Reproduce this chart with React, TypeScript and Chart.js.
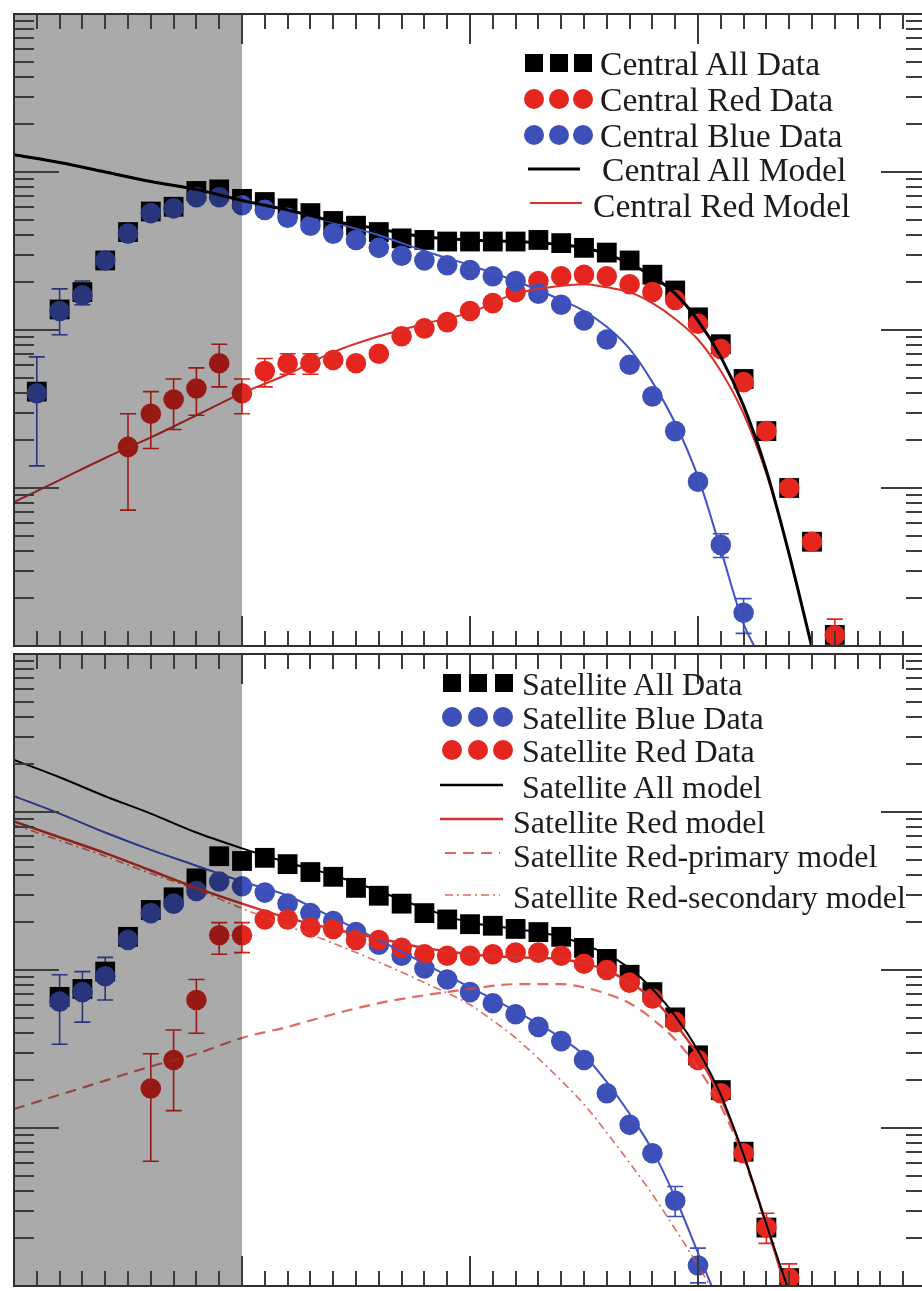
import React, { useEffect, useRef } from "react";
import { Chart, registerables } from "chart.js";

Chart.register(...registerables);

// ---------- axes ----------
const X_MIN = 8.0;
const X_MAX = 12.0;
const PHI_MIN = 1e-5;
const PHI_MAX = 1e-1;
const SHADE_FROM = 8.0;
const SHADE_TO = 9.0;

// ---------- colours ----------
const C_BLACK = "#000000";
const C_RED = "#e5261f";
const C_BLUE = "#3c50b8";
const C_RED_LINE = "#d8302a";
const C_BLUE_LINE = "#4052c4";
const C_RED_DASH = "rgba(215,70,60,0.8)";

// ---------- Central (top panel), log10 Phi ----------
const CEN_ALL_X = [8.1, 8.2, 8.3, 8.4, 8.5, 8.6, 8.7, 8.8, 8.9, 9.0, 9.1, 9.2, 9.3, 9.4, 9.5, 9.6, 9.7, 9.8, 9.9, 10.0, 10.1, 10.2, 10.3, 10.4, 10.5, 10.6, 10.7, 10.8, 10.9, 11.0, 11.1, 11.2, 11.3, 11.4, 11.5, 11.6];
const CEN_ALL_LOGPHI = [-3.39, -2.87, -2.76, -2.56, -2.38, -2.25, -2.22, -2.12, -2.11, -2.17, -2.19, -2.23, -2.26, -2.31, -2.34, -2.38, -2.42, -2.43, -2.44, -2.44, -2.44, -2.44, -2.43, -2.45, -2.48, -2.51, -2.56, -2.65, -2.75, -2.92, -3.09, -3.31, -3.64, -4.0, -4.34, -4.93];

const CEN_BLUE_X = [8.1, 8.2, 8.3, 8.4, 8.5, 8.6, 8.7, 8.8, 8.9, 9.0, 9.1, 9.2, 9.3, 9.4, 9.5, 9.6, 9.7, 9.8, 9.9, 10.0, 10.1, 10.2, 10.3, 10.4, 10.5, 10.6, 10.7, 10.8, 10.9, 11.0, 11.1, 11.2];
const CEN_BLUE_LOGPHI = [-3.4, -2.88, -2.78, -2.56, -2.39, -2.26, -2.23, -2.16, -2.16, -2.21, -2.24, -2.29, -2.34, -2.39, -2.43, -2.48, -2.53, -2.56, -2.59, -2.62, -2.66, -2.69, -2.77, -2.84, -2.94, -3.06, -3.22, -3.42, -3.64, -3.96, -4.36, -4.79];

const CEN_RED_X = [8.5, 8.6, 8.7, 8.8, 8.9, 9.0, 9.1, 9.2, 9.3, 9.4, 9.5, 9.6, 9.7, 9.8, 9.9, 10.0, 10.1, 10.2, 10.3, 10.4, 10.5, 10.6, 10.7, 10.8, 10.9, 11.0, 11.1, 11.2, 11.3, 11.4, 11.5, 11.6];
const CEN_RED_LOGPHI = [-3.74, -3.53, -3.44, -3.37, -3.21, -3.4, -3.26, -3.21, -3.21, -3.19, -3.21, -3.15, -3.04, -2.99, -2.95, -2.88, -2.83, -2.76, -2.69, -2.66, -2.65, -2.66, -2.71, -2.76, -2.81, -2.96, -3.12, -3.33, -3.64, -4.0, -4.34, -4.93];

const CEN_BLUE_ERR_X = [8.1, 8.2, 8.3, 11.1, 11.2];
const CEN_BLUE_ERR_LO = [-3.86, -3.03, -2.84, -4.44, -4.92];
const CEN_BLUE_ERR_HI = [-3.17, -2.74, -2.69, -4.29, -4.7];

const CEN_RED_ERR_X = [8.5, 8.6, 8.7, 8.8, 8.9, 9.0, 9.1, 9.2, 9.3, 11.6];
const CEN_RED_ERR_LO = [-4.14, -3.75, -3.63, -3.54, -3.36, -3.53, -3.36, -3.28, -3.28, -5.04];
const CEN_RED_ERR_HI = [-3.53, -3.39, -3.31, -3.24, -3.09, -3.31, -3.18, -3.15, -3.15, -4.83];

const CEN_MODEL_X = [8.0, 8.2, 8.4, 8.6, 8.8, 9.0, 9.2, 9.4, 9.6, 9.8, 10.0, 10.2, 10.4, 10.5, 10.6, 10.7, 10.8, 10.9, 11.0, 11.1, 11.2, 11.3, 11.4, 11.5];
const CEN_ALL_MODEL = [-1.89, -1.94, -2.0, -2.06, -2.11, -2.18, -2.24, -2.31, -2.36, -2.41, -2.43, -2.44, -2.46, -2.48, -2.52, -2.58, -2.66, -2.77, -2.94, -3.17, -3.48, -3.89, -4.42, -5.01];
const CEN_RED_MODEL = [-4.09, -3.95, -3.81, -3.68, -3.54, -3.4, -3.28, -3.14, -3.04, -2.96, -2.89, -2.77, -2.72, -2.71, -2.73, -2.76, -2.83, -2.93, -3.06, -3.26, -3.53, -3.91, -4.42, -5.01];
const CEN_BLUE_MODEL_X = [8.0, 8.2, 8.4, 8.6, 8.8, 9.0, 9.2, 9.4, 9.6, 9.8, 10.0, 10.2, 10.4, 10.5, 10.6, 10.7, 10.8, 10.9, 11.0, 11.1, 11.2, 11.25];
const CEN_BLUE_MODEL = [-1.89, -1.94, -2.0, -2.06, -2.11, -2.18, -2.24, -2.32, -2.4, -2.5, -2.59, -2.69, -2.81, -2.88, -2.98, -3.12, -3.33, -3.59, -3.93, -4.39, -4.86, -5.01];

// ---------- Satellite (bottom panel), log10 Phi ----------
const SAT_ALL_X = [8.2, 8.3, 8.4, 8.5, 8.6, 8.7, 8.8, 8.9, 9.0, 9.1, 9.2, 9.3, 9.4, 9.5, 9.6, 9.7, 9.8, 9.9, 10.0, 10.1, 10.2, 10.3, 10.4, 10.5, 10.6, 10.7, 10.8, 10.9, 11.0, 11.1, 11.2, 11.3, 11.4];
const SAT_ALL_LOGPHI = [-3.17, -3.12, -3.01, -2.79, -2.62, -2.54, -2.42, -2.28, -2.31, -2.29, -2.33, -2.38, -2.41, -2.48, -2.53, -2.58, -2.64, -2.68, -2.71, -2.72, -2.74, -2.76, -2.79, -2.86, -2.93, -3.03, -3.14, -3.3, -3.54, -3.76, -4.15, -4.63, -4.95];

const SAT_BLUE_X = [8.2, 8.3, 8.4, 8.5, 8.6, 8.7, 8.8, 8.9, 9.0, 9.1, 9.2, 9.3, 9.4, 9.5, 9.6, 9.7, 9.8, 9.9, 10.0, 10.1, 10.2, 10.3, 10.4, 10.5, 10.6, 10.7, 10.8, 10.9, 11.0];
const SAT_BLUE_LOGPHI = [-3.2, -3.14, -3.04, -2.81, -2.64, -2.58, -2.5, -2.44, -2.47, -2.51, -2.58, -2.64, -2.69, -2.76, -2.84, -2.91, -2.99, -3.06, -3.14, -3.21, -3.28, -3.36, -3.45, -3.57, -3.78, -3.98, -4.16, -4.46, -4.87];

const SAT_RED_X = [8.6, 8.7, 8.8, 8.9, 9.0, 9.1, 9.2, 9.3, 9.4, 9.5, 9.6, 9.7, 9.8, 9.9, 10.0, 10.1, 10.2, 10.3, 10.4, 10.5, 10.6, 10.7, 10.8, 10.9, 11.0, 11.1, 11.2, 11.3, 11.4];
const SAT_RED_LOGPHI = [-3.75, -3.57, -3.19, -2.78, -2.78, -2.68, -2.68, -2.73, -2.74, -2.81, -2.81, -2.86, -2.9, -2.91, -2.91, -2.9, -2.89, -2.89, -2.91, -2.96, -3.0, -3.08, -3.18, -3.33, -3.57, -3.78, -4.16, -4.63, -4.95];

const SAT_BLUE_ERR_X = [8.2, 8.3, 8.4, 10.9, 11.0];
const SAT_BLUE_ERR_LO = [-3.47, -3.33, -3.19, -4.56, -4.98];
const SAT_BLUE_ERR_HI = [-3.03, -3.01, -2.92, -4.37, -4.76];

const SAT_RED_ERR_X = [8.6, 8.7, 8.8, 8.9, 9.0, 11.3, 11.4];
const SAT_RED_ERR_LO = [-4.21, -3.89, -3.4, -2.9, -2.89, -4.73, -5.04];
const SAT_RED_ERR_HI = [-3.53, -3.38, -3.06, -2.7, -2.7, -4.54, -4.86];

const SAT_MODEL_X = [8.0, 8.2, 8.4, 8.6, 8.8, 9.0, 9.2, 9.4, 9.6, 9.8, 10.0, 10.2, 10.4, 10.5, 10.6, 10.7, 10.8, 10.9, 11.0, 11.1, 11.2, 11.3, 11.4];
const SAT_ALL_MODEL = [-1.67, -1.78, -1.9, -2.01, -2.13, -2.23, -2.32, -2.4, -2.5, -2.61, -2.7, -2.74, -2.79, -2.84, -2.9, -2.99, -3.12, -3.29, -3.51, -3.79, -4.17, -4.61, -5.04];
const SAT_RED_MODEL = [-2.06, -2.16, -2.26, -2.37, -2.48, -2.58, -2.67, -2.74, -2.8, -2.86, -2.9, -2.92, -2.93, -2.96, -3.0, -3.08, -3.18, -3.34, -3.54, -3.81, -4.17, -4.61, -5.08];
const SAT_RED_PRIMARY_MODEL = [-3.88, -3.79, -3.7, -3.61, -3.53, -3.43, -3.36, -3.28, -3.21, -3.16, -3.12, -3.09, -3.09, -3.11, -3.15, -3.21, -3.31, -3.44, -3.62, -3.86, -4.19, -4.62, -5.08];
const SAT_BLUE_MODEL_X = [8.0, 8.2, 8.4, 8.6, 8.8, 9.0, 9.2, 9.4, 9.6, 9.8, 10.0, 10.2, 10.4, 10.5, 10.6, 10.7, 10.8, 10.9, 11.0, 11.06];
const SAT_BLUE_MODEL = [-1.9, -2.01, -2.13, -2.24, -2.34, -2.44, -2.53, -2.67, -2.81, -2.96, -3.11, -3.26, -3.43, -3.54, -3.71, -3.91, -4.14, -4.44, -4.79, -5.0];
const SAT_RED_SECONDARY_X = [8.0, 8.2, 8.4, 8.6, 8.8, 9.0, 9.2, 9.4, 9.6, 9.8, 10.0, 10.1, 10.2, 10.3, 10.4, 10.5, 10.6, 10.7, 10.8, 10.9, 11.0, 11.1];
const SAT_RED_SECONDARY_MODEL = [-2.08, -2.18, -2.28, -2.39, -2.49, -2.61, -2.72, -2.83, -2.95, -3.08, -3.22, -3.32, -3.43, -3.56, -3.7, -3.85, -4.03, -4.22, -4.42, -4.64, -4.87, -5.12];

// ---------- legend labels ----------
const CEN_LABELS = ["Central All Data", "Central Red Data", "Central Blue Data", "Central All Model", "Central Red Model"];
const SAT_LABELS = ["Satellite All Data", "Satellite Blue Data", "Satellite Red Data", "Satellite All model", "Satellite Red model", "Satellite Red-primary model", "Satellite Red-secondary model"];

// ---------- helpers ----------
type ErrSet = { x: number[]; lo: number[]; hi: number[]; color: string };

const pts = (xs: number[], logs: number[]) => xs.map((x, i) => ({ x, y: Math.pow(10, logs[i]) }));

const SQUARE_R = 14;
const CIRCLE_R = 10.3;

const markers = (label: string, data: any[], style: string, color: string, radius: number, order: number) => ({
  label,
  data,
  showLine: false,
  pointStyle: style,
  pointRadius: radius,
  pointHoverRadius: radius,
  pointBackgroundColor: color,
  pointBorderColor: color,
  pointBorderWidth: 0,
  order,
});

const curve = (label: string, data: any[], color: string, width: number, dash: number[], order: number) => ({
  label,
  data,
  showLine: true,
  pointRadius: 0,
  pointHoverRadius: 0,
  borderColor: color,
  backgroundColor: color,
  borderWidth: width,
  borderDash: dash,
  fill: false,
  cubicInterpolationMode: "monotone",
  order,
});

const TOP_DATASETS = [
  curve(CEN_LABELS[3], pts(CEN_MODEL_X, CEN_ALL_MODEL), C_BLACK, 3, [], 1),
  curve(CEN_LABELS[4], pts(CEN_MODEL_X, CEN_RED_MODEL), C_RED_LINE, 2, [], 2),
  curve("Central Blue Model", pts(CEN_BLUE_MODEL_X, CEN_BLUE_MODEL), C_BLUE_LINE, 2, [], 3),
  markers(CEN_LABELS[2], pts(CEN_BLUE_X, CEN_BLUE_LOGPHI), "circle", C_BLUE, CIRCLE_R, 4),
  markers(CEN_LABELS[1], pts(CEN_RED_X, CEN_RED_LOGPHI), "circle", C_RED, CIRCLE_R, 5),
  markers(CEN_LABELS[0], pts(CEN_ALL_X, CEN_ALL_LOGPHI), "rect", C_BLACK, SQUARE_R, 6),
];

const BOTTOM_DATASETS = [
  curve(SAT_LABELS[3], pts(SAT_MODEL_X, SAT_ALL_MODEL), C_BLACK, 2, [], 1),
  curve(SAT_LABELS[4], pts(SAT_MODEL_X, SAT_RED_MODEL), C_RED_LINE, 2.5, [], 2),
  curve(SAT_LABELS[5], pts(SAT_MODEL_X, SAT_RED_PRIMARY_MODEL), C_RED_DASH, 2.2, [11, 7], 3),
  curve(SAT_LABELS[6], pts(SAT_RED_SECONDARY_X, SAT_RED_SECONDARY_MODEL), C_RED_DASH, 1.6, [8, 4, 2, 4], 4),
  curve("Satellite Blue model", pts(SAT_BLUE_MODEL_X, SAT_BLUE_MODEL), C_BLUE_LINE, 2, [], 5),
  markers(SAT_LABELS[2], pts(SAT_RED_X, SAT_RED_LOGPHI), "circle", C_RED, CIRCLE_R, 6),
  markers(SAT_LABELS[1], pts(SAT_BLUE_X, SAT_BLUE_LOGPHI), "circle", C_BLUE, CIRCLE_R, 7),
  markers(SAT_LABELS[0], pts(SAT_ALL_X, SAT_ALL_LOGPHI), "rect", C_BLACK, SQUARE_R, 8),
];

const TOP_ERRORS: ErrSet[] = [
  { x: CEN_BLUE_ERR_X, lo: CEN_BLUE_ERR_LO, hi: CEN_BLUE_ERR_HI, color: C_BLUE },
  { x: CEN_RED_ERR_X, lo: CEN_RED_ERR_LO, hi: CEN_RED_ERR_HI, color: C_RED },
];
const BOTTOM_ERRORS: ErrSet[] = [
  { x: SAT_BLUE_ERR_X, lo: SAT_BLUE_ERR_LO, hi: SAT_BLUE_ERR_HI, color: C_BLUE },
  { x: SAT_RED_ERR_X, lo: SAT_RED_ERR_LO, hi: SAT_RED_ERR_HI, color: C_RED },
];

function decorPlugin(errors: ErrSet[]) {
  return {
    id: "panelDecor",
    beforeDatasetsDraw(chart: any) {
      const { ctx, chartArea: a, scales } = chart;
      const xs = scales.x;
      const ys = scales.y;
      ctx.save();
      ctx.beginPath();
      ctx.rect(a.left, a.top, a.right - a.left, a.bottom - a.top);
      ctx.clip();
      for (const e of errors) {
        ctx.strokeStyle = e.color;
        ctx.lineWidth = 1.6;
        e.x.forEach((x, i) => {
          const px = xs.getPixelForValue(x);
          const p1 = ys.getPixelForValue(Math.pow(10, e.lo[i]));
          const p2 = ys.getPixelForValue(Math.pow(10, e.hi[i]));
          ctx.beginPath();
          ctx.moveTo(px, p1);
          ctx.lineTo(px, p2);
          ctx.moveTo(px - 8, p1);
          ctx.lineTo(px + 8, p1);
          ctx.moveTo(px - 8, p2);
          ctx.lineTo(px + 8, p2);
          ctx.stroke();
        });
      }
      ctx.restore();
    },
    afterDatasetsDraw(chart: any) {
      const { ctx, chartArea: a, scales } = chart;
      const xs = scales.x;
      const ys = scales.y;
      ctx.save();
      // grey shaded low-mass region (drawn as a translucent overlay)
      const s0 = xs.getPixelForValue(SHADE_FROM);
      const s1 = xs.getPixelForValue(SHADE_TO);
      ctx.fillStyle = "rgba(0,0,0,0.335)";
      ctx.fillRect(s0, a.top, s1 - s0, a.bottom - a.top);

      // inward ticks
      ctx.strokeStyle = "#3c3c3c";
      ctx.lineWidth = 2;
      ctx.beginPath();
      for (let i = 0; i <= 40; i++) {
        const v = X_MIN + (i * (X_MAX - X_MIN)) / 40;
        const px = Math.round(xs.getPixelForValue(v));
        const len = i % 10 === 0 ? 30 : 15;
        ctx.moveTo(px, a.top);
        ctx.lineTo(px, a.top + len);
        ctx.moveTo(px, a.bottom);
        ctx.lineTo(px, a.bottom - len);
      }
      for (let d = -5; d <= -2; d++) {
        for (let m = 1; m <= 9; m++) {
          const py = Math.round(ys.getPixelForValue(m * Math.pow(10, d)));
          const len = m === 1 ? 45 : 20;
          ctx.moveTo(a.left, py);
          ctx.lineTo(a.left + len, py);
          ctx.moveTo(a.right, py);
          ctx.lineTo(a.right - len, py);
        }
      }
      ctx.stroke();

      // frame
      ctx.strokeStyle = "#303030";
      ctx.lineWidth = 2;
      ctx.strokeRect(a.left, a.top, a.right - a.left, a.bottom - a.top);
      ctx.restore();
    },
  };
}

function Panel({ top, datasets, errors }: { top: number; datasets: any[]; errors: ErrSet[] }) {
  const ref = useRef<HTMLCanvasElement | null>(null);
  useEffect(() => {
    if (!ref.current) return;
    const chart = new Chart(ref.current, {
      type: "scatter",
      data: { datasets },
      options: {
        animation: false,
        responsive: false,
        maintainAspectRatio: false,
        events: [],
        layout: { padding: { left: 11, top: 13, right: 13, bottom: 7 } },
        scales: {
          x: { type: "linear", min: X_MIN, max: X_MAX, display: false },
          y: { type: "logarithmic", min: PHI_MIN, max: PHI_MAX, display: false },
        },
        plugins: { legend: { display: false }, tooltip: { enabled: false } },
      },
      plugins: [decorPlugin(errors)],
    } as any);
    return () => chart.destroy();
  }, []);
  return (
    <canvas
      ref={ref}
      width={940}
      height={660}
      style={{ position: "absolute", left: 0, top, width: 940, height: 660 }}
    />
  );
}

const FONT = "'Liberation Serif', 'Times New Roman', Times, serif";

function Text({ x, cy, size, children }: { x: number; cy: number; size: number; children: any }) {
  const lh = Math.round(size * 1.125);
  return (
    <div
      style={{
        position: "absolute",
        left: x,
        top: cy - lh / 2,
        height: lh,
        lineHeight: lh + "px",
        fontSize: size,
        fontFamily: FONT,
        color: "#1c1c1c",
        whiteSpace: "nowrap",
      }}
    >
      {children}
    </div>
  );
}

const TOP_FONT = 33.6;
const BOTTOM_FONT = 32;

function Legends() {
  const sq = (cx: number, cy: number, k: string) => <rect key={k} x={cx - 9} y={cy - 9} width={18} height={18} fill={C_BLACK} />;
  const ci = (cx: number, cy: number, c: string, k: string) => <circle key={k} cx={cx} cy={cy} r={10} fill={c} />;
  return (
    <>
      <svg width={922} height={1291} style={{ position: "absolute", left: 0, top: 0 }}>
        {/* central legend */}
        {[534, 559, 583].map((x, i) => sq(x, 63, "a" + i))}
        {[534, 559, 583].map((x, i) => ci(x, 99, C_RED, "b" + i))}
        {[534, 559, 583].map((x, i) => ci(x, 135, C_BLUE, "c" + i))}
        <line x1={528} y1={169} x2={580} y2={169} stroke={C_BLACK} strokeWidth={3} />
        <line x1={530} y1={203} x2={582} y2={203} stroke={C_RED_LINE} strokeWidth={2} />
        {/* satellite legend */}
        {[452, 478, 504].map((x, i) => sq(x, 683, "d" + i))}
        {[452, 478, 503].map((x, i) => ci(x, 717, C_BLUE, "e" + i))}
        {[452, 478, 503].map((x, i) => ci(x, 750, C_RED, "f" + i))}
        <line x1={440} y1={785} x2={503} y2={785} stroke={C_BLACK} strokeWidth={2.5} />
        <line x1={440} y1={819} x2={503} y2={819} stroke={C_RED_LINE} strokeWidth={2.5} />
        <line x1={445} y1={853} x2={500} y2={853} stroke={C_RED_DASH} strokeWidth={2.2} strokeDasharray="11 7" />
        <line x1={445} y1={895} x2={500} y2={895} stroke={C_RED_DASH} strokeWidth={1.6} strokeDasharray="8 4 2 4" />
      </svg>
      <Text x={600} cy={64} size={TOP_FONT}>{CEN_LABELS[0]}</Text>
      <Text x={600} cy={100} size={TOP_FONT}>{CEN_LABELS[1]}</Text>
      <Text x={600} cy={136} size={TOP_FONT}>{CEN_LABELS[2]}</Text>
      <Text x={602} cy={170} size={TOP_FONT}>{CEN_LABELS[3]}</Text>
      <Text x={593} cy={206} size={TOP_FONT}>{CEN_LABELS[4]}</Text>
      <Text x={522} cy={684} size={BOTTOM_FONT}>{SAT_LABELS[0]}</Text>
      <Text x={522} cy={718} size={BOTTOM_FONT}>{SAT_LABELS[1]}</Text>
      <Text x={522} cy={751} size={BOTTOM_FONT}>{SAT_LABELS[2]}</Text>
      <Text x={522} cy={787} size={BOTTOM_FONT}>{SAT_LABELS[3]}</Text>
      <Text x={513} cy={822} size={BOTTOM_FONT}>{SAT_LABELS[4]}</Text>
      <Text x={513} cy={856} size={BOTTOM_FONT}>{SAT_LABELS[5]}</Text>
      <Text x={513} cy={897} size={BOTTOM_FONT}>{SAT_LABELS[6]}</Text>
    </>
  );
}

export default function App() {
  return (
    <div
      style={{
        position: "fixed",
        left: 0,
        top: 0,
        width: 922,
        height: 1291,
        overflow: "hidden",
        background: "#ffffff",
      }}
    >
      <Panel top={0} datasets={TOP_DATASETS} errors={TOP_ERRORS} />
      <Panel top={640} datasets={BOTTOM_DATASETS} errors={BOTTOM_ERRORS} />
      <Legends />
    </div>
  );
}
